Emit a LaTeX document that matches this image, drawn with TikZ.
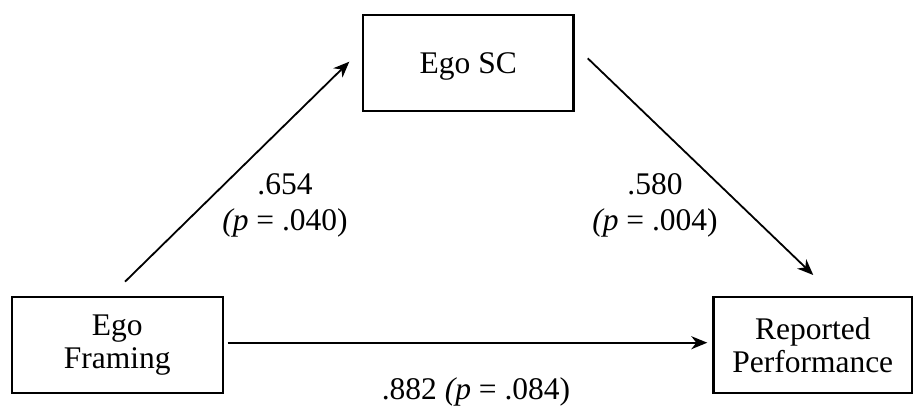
\documentclass[tikz,border=0pt]{standalone}
\usepackage{fontspec}
\setmainfont{Liberation Serif}
\usetikzlibrary{arrows.meta,calc}
\begin{document}
\begin{tikzpicture}[x=1pt,y=-1pt,
  box/.style={draw, line width=2.2pt, rectangle, inner sep=0pt, outer sep=0pt, align=center,
    font=\fontsize{31.5}{33.4}\selectfont},
  lbl/.style={inner sep=0pt, align=center, font=\fontsize{31.5}{36.7}\selectfont},
  arr/.style={line width=1.8pt, -{Stealth[length=16pt,width=13pt,inset=5pt]}}]
\useasboundingbox (0,0) rectangle (913,405);
\node[box, minimum width=211pt, minimum height=96.6pt] (ef) at (117.2,345) {Ego\\Framing};
\node[box, minimum width=210.5pt, minimum height=96pt, text depth=0pt] (sc) at (468.25,63) {Ego SC};
\node[box, minimum width=198.5pt, minimum height=96.6pt] (rp) at (812.75,345) {Reported\\Performance};
\draw[arr] ($(ef.north)+(7.8,-15)$) -- ($(sc.west)+(-13.7,-1.3)$);
\draw[arr] ($(sc.east)+(14.2,-4.7)$) -- ($(rp.north)+(0.5,-21.7)$);
\draw[arr] ($(ef.east)+(5,-2.3)$) -- ($(rp.west)+(-6.2,-2.3)$);
\node[lbl] (l1) at (285,205.5) {.654\\\textit{(p} = .040)};
\node[lbl] (l2) at (655,205.5) {.580\\\textit{(p} = .004)};
\node[lbl, anchor=base] (l3) at (476,399) {.882 \textit{(p} = .084)};
\end{tikzpicture}
\end{document}
